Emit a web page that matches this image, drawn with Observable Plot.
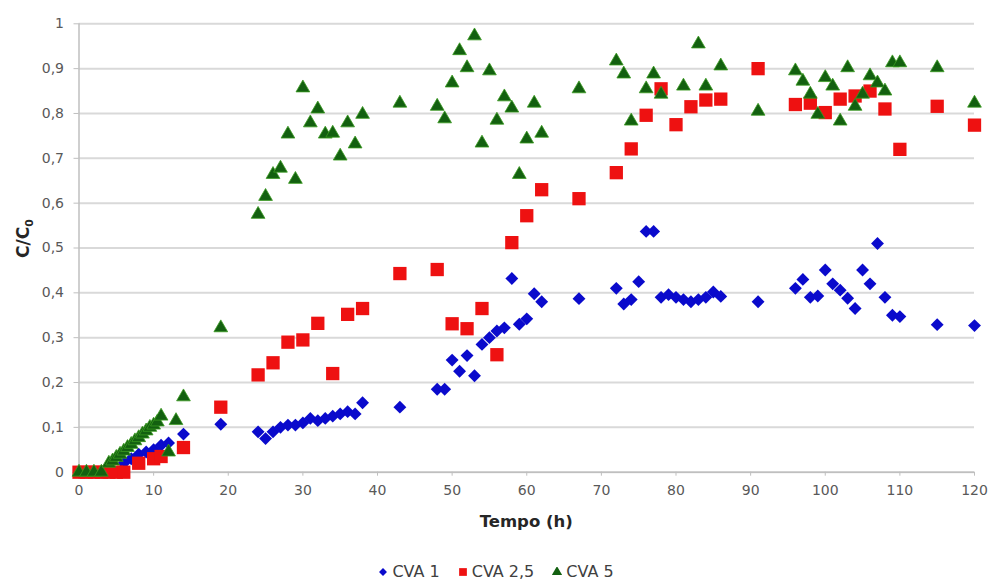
<!DOCTYPE html>
<html><head><meta charset="utf-8">
<script src="https://cdn.jsdelivr.net/npm/d3@7"></script>
<script src="https://cdn.jsdelivr.net/npm/@observablehq/plot@0.6"></script>
<style>
body{margin:0;background:#fff;font-family:"DejaVu Sans",sans-serif;}
#chart svg{display:block;}
#legend{height:39px;width:992px;display:flex;justify-content:center;align-items:flex-start;padding-top:19px;box-sizing:border-box;font-size:16px;line-height:16px;color:#404040;}
#legend .item{display:flex;align-items:center;margin:0 9px;}
#legend svg{margin-right:4px;}
</style></head><body>
<div id="chart"></div>
<div id="legend"></div>
<script>
// CVA 1
const cva1X = [0,1,2,3,4,6,7,8,9,10,11,12,14,19,24,25,26,27,28,29,30,31,32,33,34,35,36,37,38,43,48,49,50,51,52,53,54,55,56,57,58,59,60,61,62,67,72,73,74,75,76,77,78,79,80,81,82,83,84,85,86,91,96,97,98,99,100,101,102,103,104,105,106,107,108,109,110,115,120];
const cva1Y = [0,0,0,0,0,0.02,0.03,0.04,0.045,0.05,0.06,0.065,0.085,0.107,0.09,0.075,0.09,0.1,0.105,0.105,0.11,0.12,0.115,0.12,0.125,0.13,0.135,0.13,0.155,0.145,0.185,0.185,0.25,0.225,0.26,0.215,0.285,0.3,0.315,0.322,0.432,0.33,0.342,0.398,0.38,0.387,0.41,0.375,0.385,0.425,0.537,0.537,0.39,0.396,0.39,0.385,0.38,0.385,0.39,0.402,0.392,0.38,0.41,0.43,0.39,0.393,0.451,0.42,0.406,0.388,0.365,0.451,0.42,0.51,0.39,0.35,0.347,0.329,0.327];
// CVA 2,5
const cva25X = [0,1,2,3,4,5,6,8,10,11,14,19,24,26,28,30,32,34,36,38,43,48,50,52,54,56,58,60,62,67,72,74,76,78,80,82,84,86,91,96,98,100,102,104,106,108,110,115,120];
const cva25Y = [0,0,0,0,0,0,0,0.02,0.03,0.035,0.055,0.145,0.217,0.244,0.29,0.295,0.332,0.22,0.352,0.365,0.443,0.452,0.331,0.32,0.365,0.262,0.512,0.572,0.63,0.61,0.668,0.721,0.796,0.855,0.775,0.815,0.83,0.832,0.9,0.82,0.823,0.802,0.832,0.839,0.85,0.81,0.72,0.816,0.774];
// CVA 5
const cva5X = [0,1,2,3,4,4.5,5,5.5,6,6.5,7,7.5,8,8.5,9,9.5,10,10.5,11,12,13,14,19,24,25,26,27,28,29,30,31,32,33,34,35,36,37,38,43,48,49,50,51,52,53,54,55,56,57,58,59,60,61,62,67,72,73,74,76,77,78,81,83,84,86,91,96,97,98,99,100,101,102,103,104,105,106,107,108,109,110,115,120];
const cva5Y = [0,0,0,0,0.02,0.025,0.033,0.04,0.047,0.055,0.062,0.07,0.077,0.085,0.092,0.1,0.105,0.112,0.125,0.045,0.115,0.168,0.322,0.575,0.615,0.664,0.678,0.754,0.653,0.857,0.779,0.81,0.754,0.756,0.705,0.779,0.732,0.798,0.823,0.816,0.788,0.868,0.94,0.902,0.973,0.734,0.895,0.785,0.837,0.812,0.664,0.743,0.823,0.756,0.855,0.917,0.888,0.783,0.855,0.888,0.843,0.861,0.955,0.861,0.906,0.805,0.895,0.872,0.843,0.798,0.88,0.861,0.783,0.902,0.816,0.843,0.884,0.868,0.85,0.913,0.913,0.902,0.823];

const xTicks = [0,10,20,30,40,50,60,70,80,90,100,110,120];
const yTicks = [0,0.1,0.2,0.3,0.4,0.5,0.6,0.7,0.8,0.9,1];
const seriesNames = ["CVA 1","CVA 2,5","CVA 5"];
const colors = {blue:"#0a0acc", red:"#ee1111", green:"#136010"};

const toRows = (xs, ys) => xs.map((x, i) => ({x, y: ys[i]}));
const d1 = toRows(cva1X, cva1Y), d25 = toRows(cva25X, cva25Y), d5 = toRows(cva5X, cva5Y);
const fmtY = d => d === 0 ? "0" : d === 1 ? "1" : d.toFixed(1).replace(".", ",");

const chart = Plot.plot({
  width: 992, height: 545,
  marginLeft: 78.5, marginRight: 18, marginTop: 23.3, marginBottom: 73.3,
  style: {fontFamily: "DejaVu Sans, sans-serif", background: "#fff"},
  x: {domain: [0, 120]},
  y: {domain: [0, 1]},
  marks: [
    Plot.ruleY(yTicks, {stroke: "#d9d9d9", strokeWidth: 2}),
    Plot.ruleX([0], {stroke: "#bfbfbf", strokeWidth: 1.5}),
    Plot.ruleY([0], {stroke: "#bfbfbf", strokeWidth: 1.5}),
    Plot.axisY({ticks: yTicks, tickFormat: fmtY, tickSize: 5, tickPadding: 10, stroke: "#bfbfbf", fill: "#595959", fontSize: 14, label: null}),
    Plot.axisX({ticks: xTicks, tickSize: 4, tickPadding: 9, stroke: "#bfbfbf", fill: "#595959", fontSize: 14, label: null}),
    Plot.dot(d1, {x: "x", y: "y", symbol: "diamond2", r: 5.8, fill: colors.blue}),
    Plot.dot(d25, {x: "x", y: "y", symbol: "square", r: 7.5, fill: colors.red}),
    Plot.dot(d5, {x: "x", y: "y", symbol: "triangle", r: 5.1, fill: colors.green, stroke: "#3a9a20", strokeWidth: 0.8})
  ]
});
document.getElementById("chart").appendChild(chart);

// axis titles
const svg = d3.select(chart);
const xs = chart.scale("x"), ys = chart.scale("y");
svg.append("text").attr("x", xs.apply(60)).attr("y", 527).attr("text-anchor", "middle")
  .attr("font-family", "DejaVu Sans").attr("font-weight", "bold").attr("font-size", 16.5).attr("fill", "#262626")
  .text("Tempo (h)");
const yl = svg.append("text").attr("transform", `translate(29,${ys.apply(0.52)}) rotate(-90)`).attr("text-anchor", "middle")
  .attr("font-family", "DejaVu Sans").attr("font-weight", "bold").attr("font-size", 17).attr("fill", "#262626");
yl.append("tspan").text("C/C");
yl.append("tspan").attr("font-size", 11).attr("dy", 4).text("0");

// legend
const legend = d3.select("#legend");
const shapes = [
  {name: seriesNames[0], color: colors.blue, sym: d3.symbolDiamond2, size: 40},
  {name: seriesNames[1], color: colors.red, sym: d3.symbolSquare, size: 60},
  {name: seriesNames[2], color: colors.green, sym: d3.symbolTriangle, size: 45}
];
for (const s of shapes) {
  const it = legend.append("div").attr("class", "item");
  const m = it.append("svg").attr("width", 10).attr("height", 10);
  m.append("path").attr("transform", "translate(5,5)").attr("d", d3.symbol(s.sym, s.size)()).attr("fill", s.color);
  it.append("span").text(s.name);
}
</script>
</body></html>
